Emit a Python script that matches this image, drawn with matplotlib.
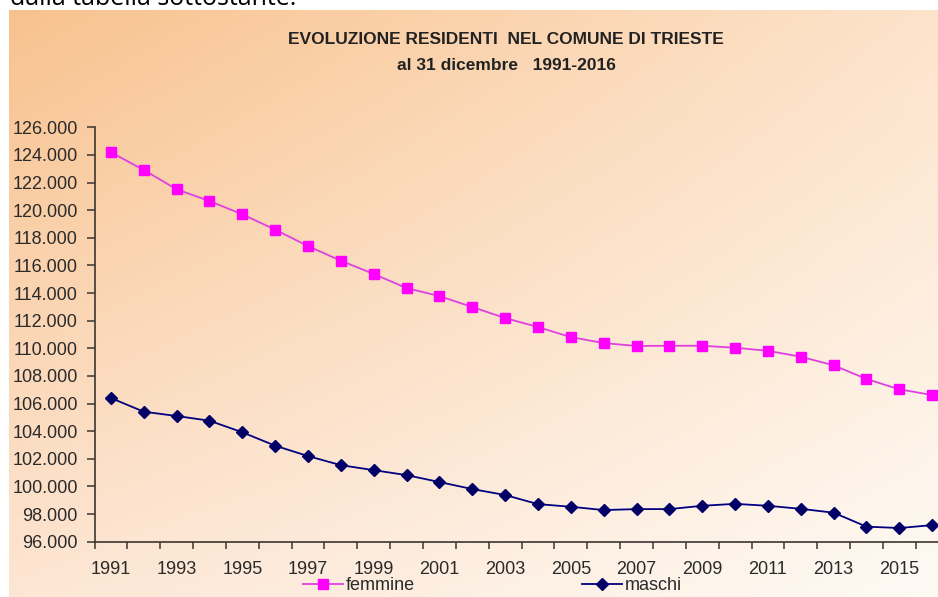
import numpy as np
import matplotlib.pyplot as plt

plt.rcParams['font.family'] = ['Liberation Sans', 'DejaVu Sans']

anni = list(range(1991, 2017))
femmine = [124190, 122910, 121510, 120660, 119700, 118590, 117400, 116340, 115380, 114360,
           113780, 112990, 112190, 111540, 110810, 110380, 110170, 110185, 110185, 110040,
           109820, 109390, 108770, 107780, 107030, 106620]
maschi = [106400, 105410, 105100, 104760, 103920, 102950, 102200, 101540, 101180, 100820,
          100320, 99810, 99380, 98720, 98530, 98290, 98360, 98360, 98600, 98740,
          98600, 98380, 98100, 97090, 96990, 97200]
y_ticks = list(range(96000, 126001, 2000))

W, H = 938, 597
fig = plt.figure(figsize=(W / 100, H / 100), dpi=100)
fig.patch.set_facecolor('white')

# sfondo sfumato arancio -> crema
bg = fig.add_axes([9 / W, 0, 1 - 9 / W, (H - 10) / H])
bg.set_axis_off()
tl = np.array([248, 194, 142]) / 255
tr = np.array([253, 227, 203]) / 255
bl = np.array([253, 230, 212]) / 255
br = np.array([254, 250, 244]) / 255
u = np.linspace(0, 1, 200)[None, :, None]
v = np.linspace(0, 1, 200)[:, None, None]
grad = (1 - v) * ((1 - u) * tl + u * tr) + v * ((1 - u) * bl + u * br)
bg.imshow(grad, aspect='auto', extent=(0, 1, 0, 1), interpolation='bilinear')
bg.set_xlim(0, 1)
bg.set_ylim(0, 1)

# riga di testo del documento, tagliata dal bordo superiore
fig.text(10 / W, 1 - 5 / H, 'dalla tabella sottostante.', fontsize=18, color='black',
         ha='left', va='baseline', family=['Open Sans', 'DejaVu Sans'])

cat_w = 32.85
ax = fig.add_axes([94.5 / W, (H - 541.7) / H, 26 * cat_w / W, 414.4 / H])
ax.patch.set_alpha(0)

x = np.arange(len(anni))
ax.plot(x, femmine, color='#e040e0', lw=1.3, marker='s', ms=7.5,
        mfc='#ff00ff', mec='#ff00ff', label='femmine', zorder=3)
ax.plot(x, maschi, color='#000080', lw=1.3, marker='D', ms=6.5,
        mfc='#000066', mec='#000066', label='maschi', zorder=3)

ax.set_xlim(-0.5, len(anni) - 0.5)
ax.set_ylim(y_ticks[0], y_ticks[-1])

axis_col = '#3c3530'
for s in ['top', 'right']:
    ax.spines[s].set_visible(False)
for s in ['left', 'bottom']:
    ax.spines[s].set_color(axis_col)
    ax.spines[s].set_linewidth(1.2)

ax.set_yticks(y_ticks)
ax.set_yticklabels([f'{v // 1000}.000' for v in y_ticks])
ax.tick_params(axis='y', direction='out', length=6, width=1.1, color=axis_col,
               labelsize=13, labelcolor='#2a2a2a', pad=6)

# tacche ai confini delle categorie, etichette ad anni alterni
ax.set_xticks(np.arange(-0.5, len(anni) + 0.5, 1))
ax.set_xticklabels([])
ax.tick_params(axis='x', which='major', direction='out', length=5, width=1.1, color=axis_col)
ax.set_xticks(x[::2], minor=True)
ax.set_xticklabels([str(a) for a in anni[::2]], minor=True)
ax.tick_params(axis='x', which='minor', length=0, labelsize=13,
               labelcolor='#2a2a2a', pad=14)

fig.text(506 / W, 1 - 40 / H, 'EVOLUZIONE RESIDENTI  NEL COMUNE DI TRIESTE',
         ha='center', va='center', fontsize=12.5, fontweight='bold', color='#222222')
fig.text(506 / W, 1 - 65 / H, 'al 31 dicembre   1991-2016',
         ha='center', va='center', fontsize=12.5, fontweight='bold', color='#222222')

ax.legend(loc='center left', bbox_to_anchor=(303 / W, (H - 586) / H),
          bbox_transform=fig.transFigure, ncol=2, frameon=False, fontsize=13,
          borderpad=0, borderaxespad=0, handlelength=2.2, handletextpad=0.15,
          columnspacing=9.3, numpoints=1, labelcolor='#2a2a2a')

fig.savefig('out.png', dpi=100)
